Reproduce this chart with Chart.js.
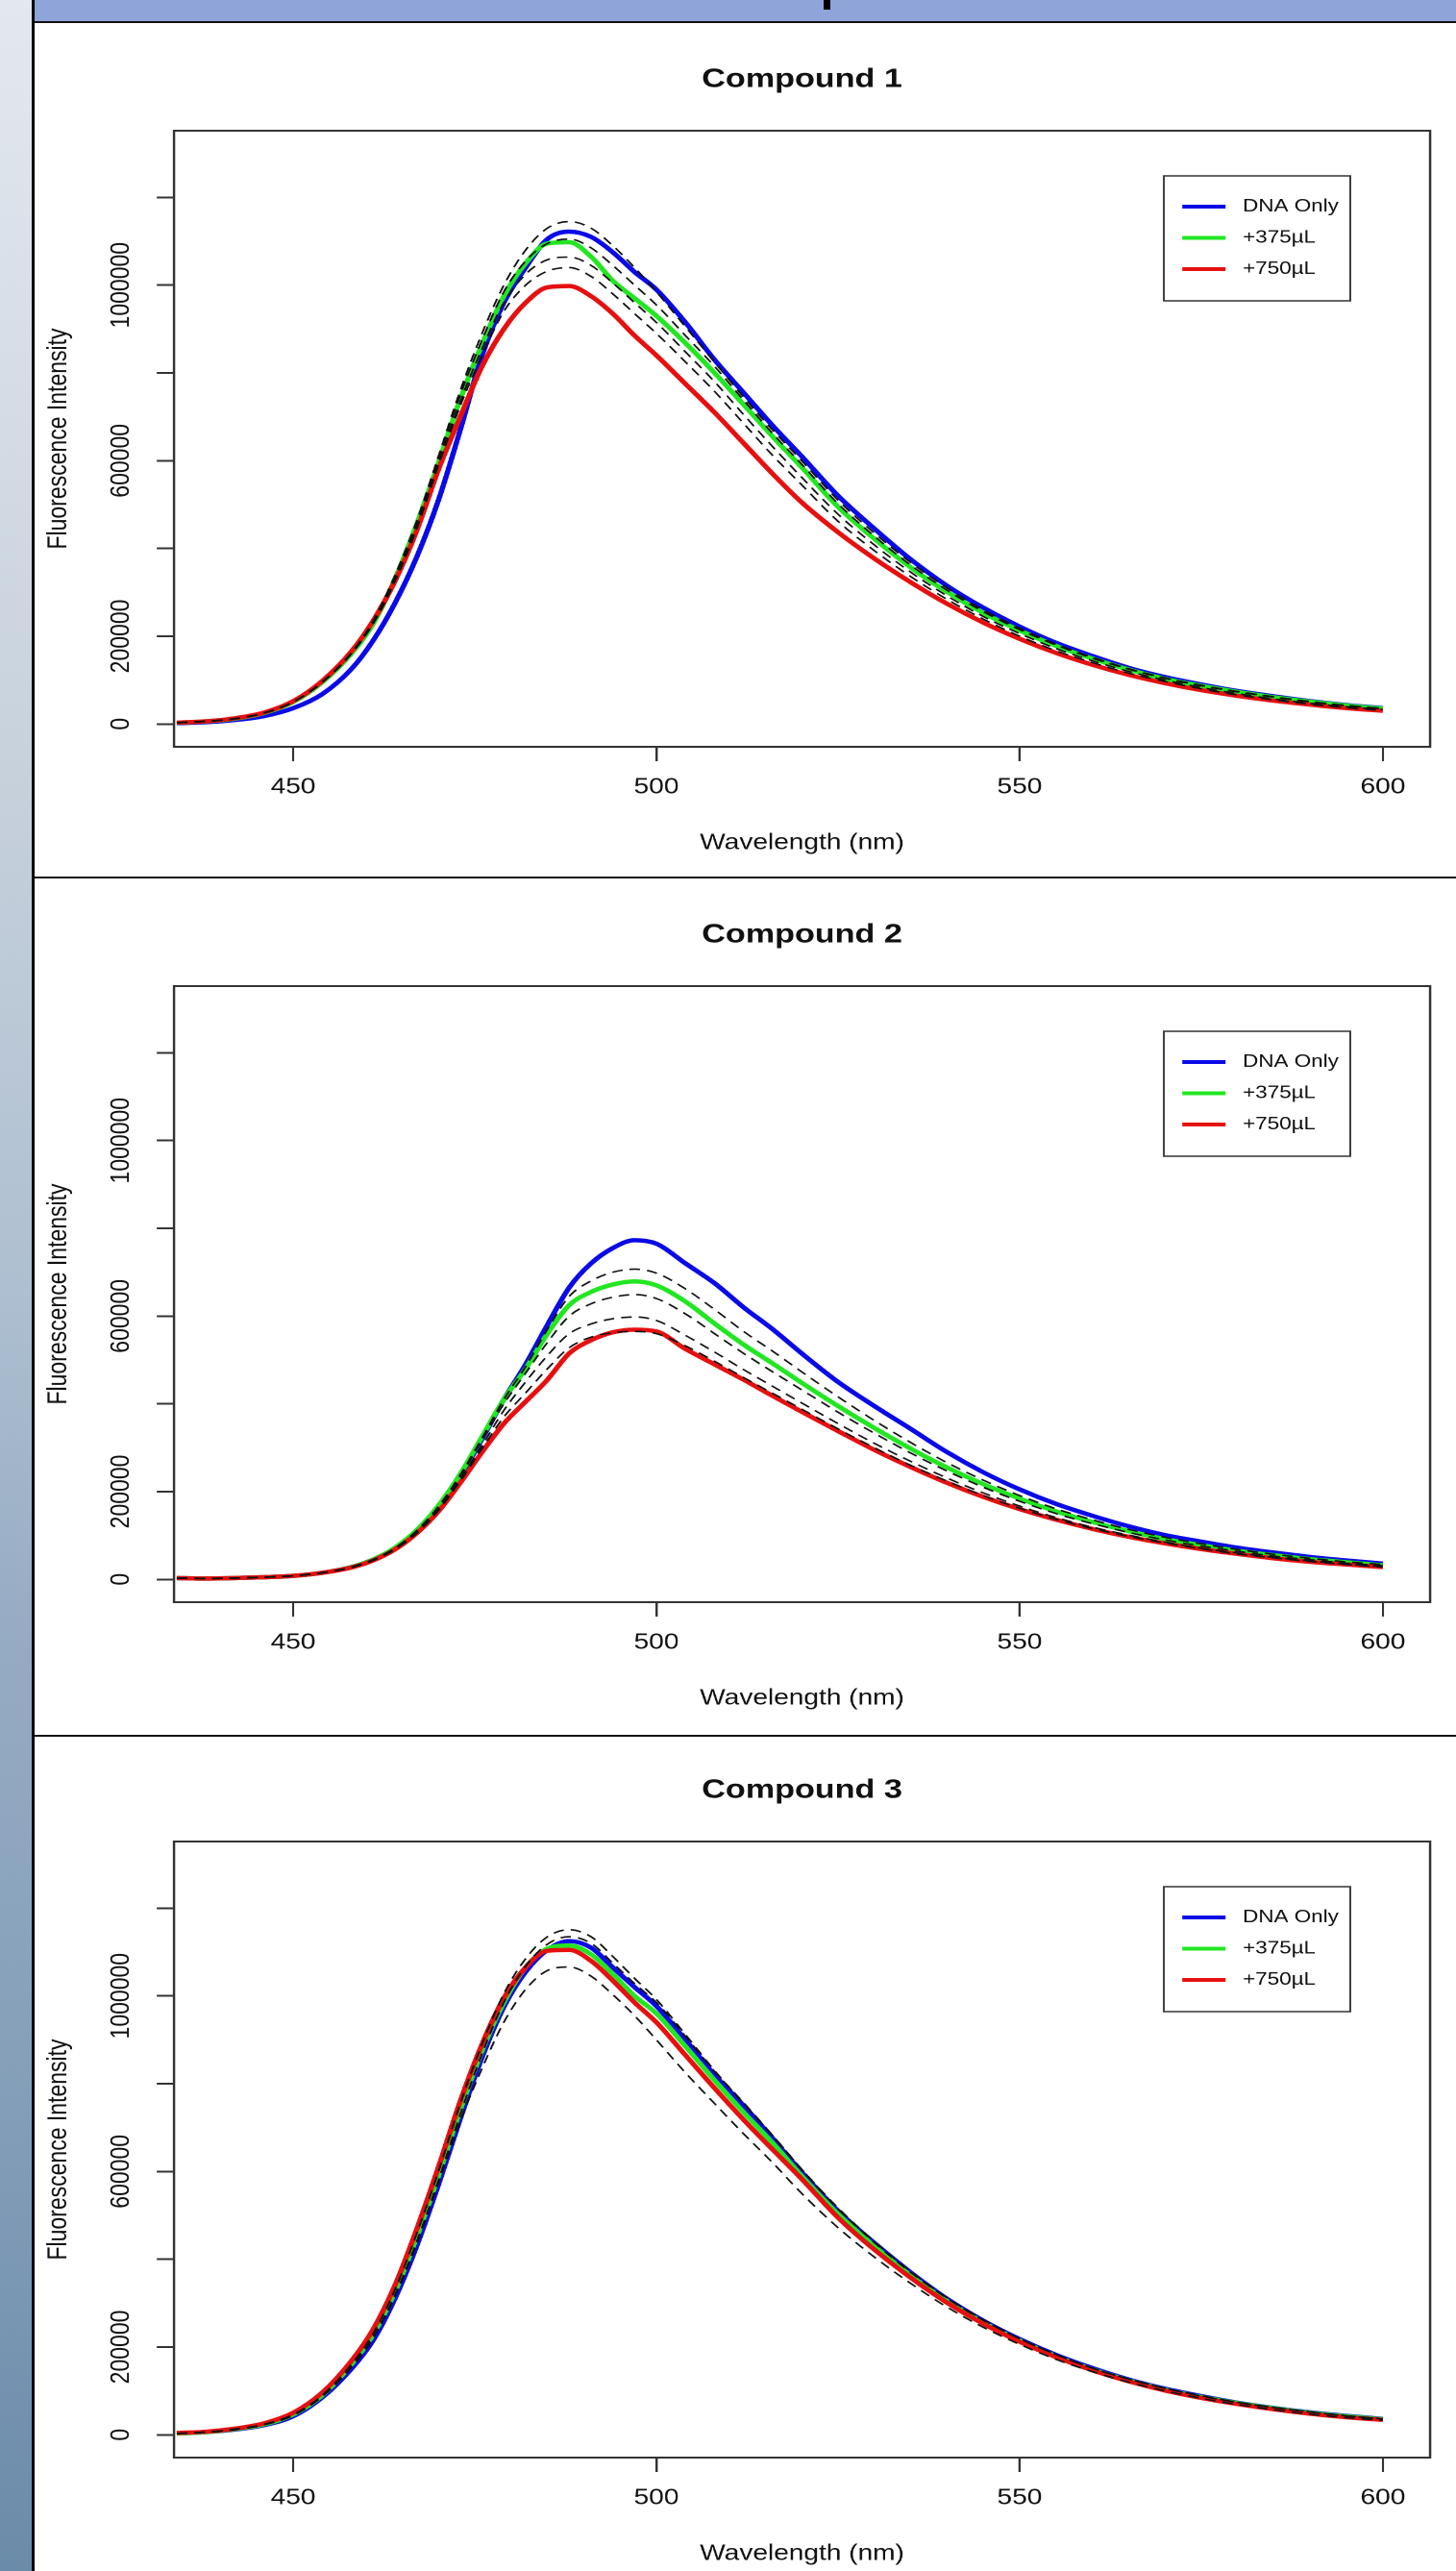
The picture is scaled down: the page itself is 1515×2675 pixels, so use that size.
<!DOCTYPE html>
<html><head><meta charset="utf-8">
<script src="https://cdn.jsdelivr.net/npm/chart.js@4.4.1/dist/chart.umd.min.js"></script>
<style>
html,body{margin:0;padding:0;background:#fff;}
body{width:1515px;height:2675px;position:relative;overflow:hidden;font-family:"Liberation Sans",Arial,sans-serif;}
#strip{position:absolute;left:0;top:0;width:33px;height:2675px;
 background:linear-gradient(to bottom,#e3e8ef 0%,#c7d1dc 30%,#aebfd1 50%,#95abc3 64%,#86a0ba 80%,#6b8baa 100%);}
#vline{position:absolute;left:33px;top:0;width:3px;height:2675px;background:#000;z-index:6;}
#banner{position:absolute;left:36px;top:0;width:1479px;height:22px;background:#8fa4d9;}
#frag{position:absolute;left:857px;top:0;width:7px;height:10px;background:#000;}
.hline{position:absolute;left:33px;width:1482px;height:2px;background:#111;z-index:5;}
.panel{position:absolute;left:36px;width:1212px;height:890px;transform:scaleX(1.22);transform-origin:0 0;}
</style></head>
<body>
<div id="strip"></div>
<div id="banner"></div>
<div id="frag"></div>
<div id="vline"></div>
<div class="hline" style="top:22px"></div>
<div class="hline" style="top:912px"></div>
<div class="hline" style="top:1805px"></div>
<div class="panel" style="top:24px"><canvas id="c1"></canvas></div>
<div class="panel" style="top:914px"><canvas id="c2"></canvas></div>
<div class="panel" style="top:1804px"><canvas id="c3"></canvas></div>
<script>
const wavelengths = [434,438,442,446,450,454,458,461,464,467,470,473,476,479,482,485,488,491,494,497,500,504,508,512,516,520,525,530,535,540,545,550,555,560,565,570,575,580,585,590,595,600];
const seriesNames = ['DNA Only','+375\u00b5L','+750\u00b5L'];
const panelTitles = ['Compound 1','Compound 2','Compound 3'];
const xTickValues = [450,500,550,600];
const yTickValues = [0,200000,400000,600000,800000,1000000,1200000];
const yTickLabels = ['0','200000','','600000','','1000000',''];
const xLabel = 'Wavelength (nm)';
const yLabel = 'Fluorescence Intensity';

// Compound 1
const c1Blue  = [2000,4000,9000,18000,36000,68000,125000,190000,275000,380000,510000,670000,840000,960000,1040000,1105000,1122000,1110000,1075000,1030000,990000,915000,830000,755000,680000,610000,520000,445000,375000,315000,265000,222000,185000,155000,128000,107000,90000,75000,63000,52000,43000,36000];
const c1Green = [3000,6000,12000,25000,50000,95000,160000,228000,330000,455000,595000,740000,865000,975000,1050000,1095000,1098000,1065000,1010000,970000,930000,868000,800000,728000,655000,585000,495000,422000,357000,301000,253000,213000,178000,149000,124000,103000,87000,73000,61000,51000,42000,35000];
const c1Red   = [3000,6000,13000,26000,52000,98000,165000,235000,325000,440000,580000,700000,815000,900000,960000,995000,998000,975000,935000,885000,840000,775000,710000,640000,570000,505000,437000,377000,323000,274000,231000,194000,162000,135000,112000,93000,77000,64000,53000,44000,36000,30000];
const c1Dash1 = [3000,6000,12000,25000,50000,96000,162000,235000,338000,462000,610000,760000,890000,1000000,1080000,1130000,1145000,1130000,1090000,1040000,985000,905000,825000,745000,670000,600000,510000,435000,368000,310000,260000,218000,182000,152000,126000,105000,88000,74000,62000,51000,42000,35000];
const c1Dash2 = [3000,6000,12000,25000,50000,95000,161000,232000,333000,455000,605000,750000,875000,985000,1055000,1095000,1105000,1085000,1045000,1000000,955000,885000,815000,738000,662000,592000,502000,428000,362000,305000,256000,215000,180000,150000,125000,104000,87000,73000,61000,50000,42000,35000];
const c1Dash3 = [3000,6000,12000,25000,50000,95000,160000,230000,330000,450000,595000,735000,855000,960000,1025000,1058000,1064000,1045000,1005000,960000,915000,848000,780000,705000,632000,562000,478000,408000,346000,292000,245000,206000,172000,144000,120000,100000,83000,69000,57000,47000,39000,33000];
const c1Dash4 = [3000,6000,12000,25000,50000,95000,160000,228000,325000,445000,590000,725000,840000,940000,1000000,1032000,1040000,1020000,980000,935000,890000,825000,758000,685000,612000,545000,462000,395000,336000,284000,239000,200000,167000,140000,116000,97000,80000,66000,55000,45000,37000,31000];

// Compound 2
const c2Blue  = [3000,2000,3000,5000,8000,15000,28000,45000,70000,110000,165000,235000,320000,410000,490000,580000,665000,720000,755000,773000,765000,720000,675000,620000,570000,515000,450000,395000,343000,290000,244000,205000,172000,145000,121000,101000,86000,72000,61000,51000,43000,36000];
const c2Green = [3000,2000,3000,5000,8000,15000,28000,45000,72000,112000,168000,240000,325000,410000,480000,560000,625000,655000,672000,679000,670000,633000,583000,535000,492000,448000,395000,345000,298000,255000,217000,184000,155000,131000,110000,92000,78000,65000,55000,46000,39000,32000];
const c2Red   = [3000,2000,3000,5000,8000,15000,27000,43000,68000,105000,155000,220000,290000,355000,405000,455000,515000,545000,563000,569000,565000,525000,490000,455000,418000,382000,338000,295000,256000,220000,188000,160000,136000,115000,97000,82000,69000,58000,48000,40000,34000,28000];
const c2Dash1 = [3000,2000,3000,5000,8000,15000,28000,45000,71000,111000,166000,238000,322000,410000,485000,570000,645000,680000,700000,707000,698000,662000,615000,565000,520000,473000,416000,362000,312000,266000,226000,191000,161000,136000,114000,96000,81000,68000,57000,48000,40000,34000];
const c2Dash2 = [3000,2000,3000,5000,8000,15000,28000,44000,70000,110000,164000,234000,318000,400000,470000,540000,600000,628000,643000,649000,640000,605000,560000,515000,473000,432000,381000,333000,288000,247000,210000,178000,150000,127000,107000,90000,76000,64000,53000,45000,37000,31000];
const c2Dash3 = [3000,2000,3000,5000,8000,15000,27000,44000,69000,107000,160000,228000,305000,385000,450000,510000,560000,582000,594000,598000,590000,556000,518000,478000,440000,402000,355000,310000,269000,231000,197000,167000,141000,119000,101000,85000,71000,60000,50000,42000,35000,29000];
const c2Dash4 = [3000,2000,3000,5000,8000,15000,27000,43000,68000,105000,157000,224000,298000,370000,425000,480000,528000,552000,562000,565000,560000,532000,497000,460000,424000,388000,343000,300000,260000,224000,191000,162000,137000,116000,98000,83000,70000,58000,49000,41000,34000,28000];

// Compound 3
const c3Blue  = [3000,6000,12000,22000,42000,85000,150000,215000,310000,430000,570000,720000,860000,975000,1055000,1105000,1125000,1110000,1065000,1020000,977000,900000,820000,750000,675000,598000,510000,437000,370000,310000,260000,218000,182000,152000,126000,105000,88000,73000,61000,51000,43000,36000];
const c3Green = [3000,6000,13000,24000,46000,90000,160000,228000,325000,450000,590000,740000,875000,985000,1065000,1108000,1115000,1095000,1050000,1000000,960000,885000,808000,735000,665000,590000,503000,430000,363000,305000,256000,215000,179000,149000,124000,103000,86000,72000,60000,50000,42000,35000];
const c3Red   = [4000,7000,14000,26000,50000,96000,168000,240000,340000,468000,610000,760000,890000,995000,1065000,1103000,1105000,1080000,1035000,985000,940000,865000,790000,718000,650000,583000,495000,422000,358000,301000,253000,212000,177000,147000,122000,101000,84000,70000,58000,48000,40000,34000];
const c3Dash1 = [3000,6000,13000,24000,46000,90000,160000,230000,330000,458000,600000,755000,890000,1005000,1085000,1135000,1151000,1135000,1090000,1040000,992000,912000,830000,755000,682000,605000,517000,440000,372000,312000,262000,219000,183000,152000,127000,106000,88000,74000,62000,52000,43000,36000];
const c3Dash2 = [3000,6000,12000,23000,44000,88000,155000,222000,318000,440000,580000,730000,868000,985000,1068000,1118000,1135000,1120000,1075000,1028000,985000,908000,828000,757000,682000,605000,515000,438000,370000,311000,261000,219000,183000,152000,127000,106000,89000,74000,62000,52000,43000,36000];
const c3Dash3 = [3000,6000,12000,23000,44000,87000,153000,220000,315000,435000,575000,715000,835000,940000,1015000,1058000,1066000,1045000,1003000,955000,900000,825000,755000,686000,620000,550000,472000,405000,345000,291000,245000,206000,172000,144000,120000,100000,83000,69000,57000,47000,39000,33000];

const seriesColors = ['#0a0ae6','#22e622','#e61010'];
const FONT = '"Liberation Sans", Arial, Helvetica, sans-serif';
Chart.defaults.font.family = FONT;
Chart.defaults.color = '#111';

const decorPlugin = {
  id: 'panelDecor',
  afterDraw(chart, args, opts) {
    const ctx = chart.ctx, a = chart.chartArea;
    ctx.save();
    ctx.setLineDash([]);
    ctx.strokeStyle = '#333'; ctx.lineWidth = 2;
    ctx.strokeRect(a.left, a.top, a.right - a.left, a.bottom - a.top);
    ctx.fillStyle = '#111';
    ctx.font = 'bold 28px ' + FONT;
    ctx.textAlign = 'center'; ctx.textBaseline = 'middle';
    ctx.fillText(opts.text, (a.left + a.right) / 2, 59);
    const lx = a.right - 227, ly = a.top + 47, lw = 159, lh = 130;
    ctx.fillStyle = '#fff'; ctx.fillRect(lx, ly, lw, lh);
    ctx.strokeStyle = '#333'; ctx.lineWidth = 1.5; ctx.strokeRect(lx, ly, lw, lh);
    ctx.font = '18.4px ' + FONT;
    ctx.textAlign = 'left';
    chart.data.datasets.filter(d => d.inLegend).forEach((d, i) => {
      const y = ly + 32 + i * 32.5;
      ctx.strokeStyle = d.borderColor; ctx.lineWidth = 4;
      ctx.beginPath(); ctx.moveTo(lx + 15.6, y); ctx.lineTo(lx + 52.5, y); ctx.stroke();
      ctx.fillStyle = '#111'; ctx.fillText(d.label, lx + 67.2, y);
    });
    ctx.restore();
  }
};

function pts(vals) { return wavelengths.map((w, i) => ({x: w, y: vals[i]})); }

function makeChart(id, title, main, dashed) {
  const datasets = [];
  main.forEach((vals, i) => datasets.push({
    label: seriesNames[i], data: pts(vals), borderColor: seriesColors[i], borderWidth: 4.5,
    pointRadius: 0, cubicInterpolationMode: 'monotone', fill: false, order: 3 - i, inLegend: true
  }));
  dashed.forEach(vals => datasets.push({
    label: '', data: pts(vals), borderColor: '#111', borderWidth: 1.6, borderDash: [9, 6],
    pointRadius: 0, cubicInterpolationMode: 'monotone', fill: false, order: 0, inLegend: false
  }));
  const gridOpts = (tl) => ({drawOnChartArea: false, drawTicks: true, tickLength: tl, tickColor: '#333', tickWidth: 2});
  return new Chart(document.getElementById(id), {
    type: 'line',
    data: {datasets},
    plugins: [decorPlugin],
    options: {
      responsive: true, maintainAspectRatio: false, animation: false, devicePixelRatio: 2,
      events: [],
      layout: {padding: {top: 112, right: 21.8, bottom: 0, left: 0}},
      plugins: {legend: {display: false}, tooltip: {enabled: false}, panelDecor: {text: title}},
      scales: {
        x: {
          type: 'linear', min: 433.6, max: 606.5, bounds: 'data',
          afterBuildTicks: s => { s.ticks = xTickValues.map(v => ({value: v})); },
          afterFit: s => { s.height = 137; },
          grid: gridOpts(15), border: {display: false},
          ticks: {color: '#111', font: {size: 23}, padding: 13.2, maxRotation: 0, minRotation: 0, autoSkip: false},
          title: {display: true, text: xLabel, color: '#111', font: {size: 23}, padding: {top: 0, bottom: 23.2}}
        },
        y: {
          type: 'linear', min: -52000, max: 1352000, bounds: 'data',
          afterBuildTicks: s => { s.ticks = yTickValues.map(v => ({value: v})); },
          afterFit: s => { s.width = 118.9; },
          grid: gridOpts(14.75), border: {display: false},
          ticks: {color: '#111', font: {size: 23}, padding: -15, minRotation: 90, maxRotation: 90,
                  crossAlign: 'center', autoSkip: false, callback: (v, i) => yTickLabels[i]},
          title: {display: true, text: yLabel, color: '#111', font: {size: 23}, padding: {top: 6.7, bottom: 0}}
        }
      }
    }
  });
}

makeChart('c1', panelTitles[0], [c1Blue, c1Green, c1Red], [c1Dash1, c1Dash2, c1Dash3, c1Dash4]);
makeChart('c2', panelTitles[1], [c2Blue, c2Green, c2Red], [c2Dash1, c2Dash2, c2Dash3, c2Dash4]);
makeChart('c3', panelTitles[2], [c3Blue, c3Green, c3Red], [c3Dash1, c3Dash2, c3Dash3]);
</script>
</body></html>
